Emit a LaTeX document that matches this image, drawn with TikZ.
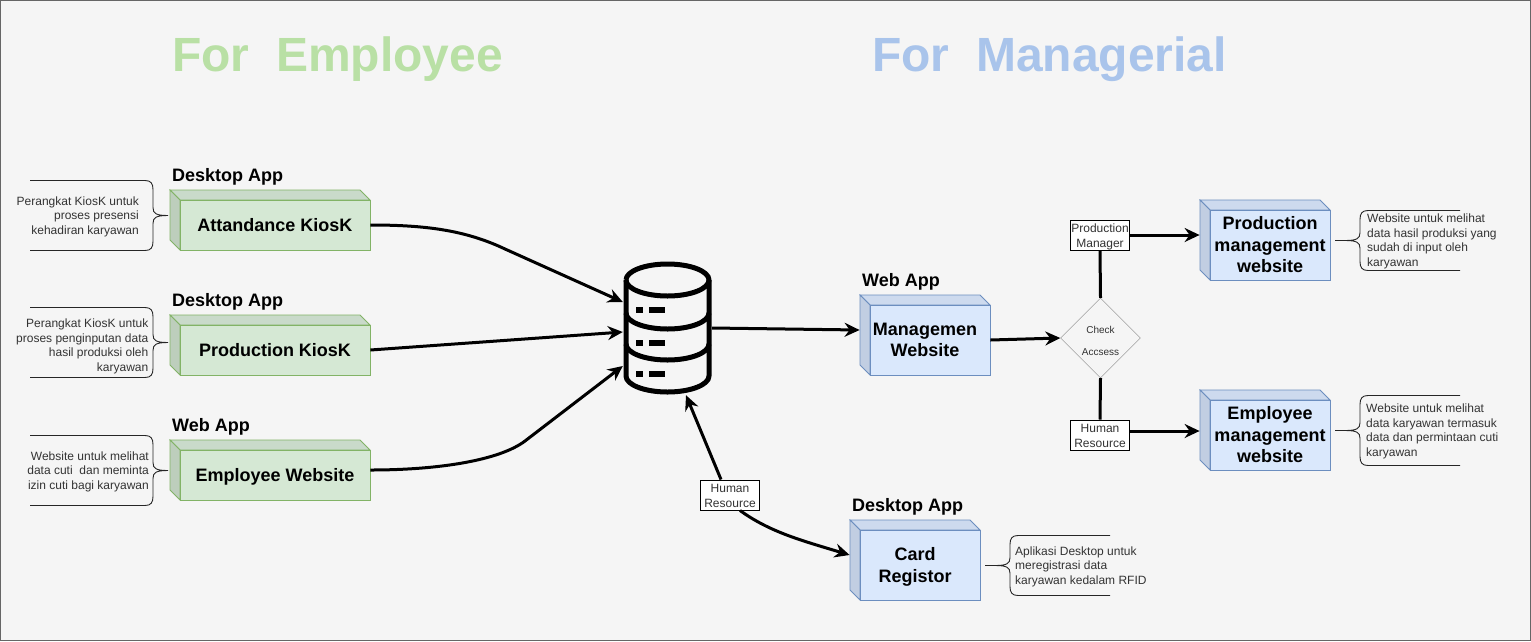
\documentclass[tikz,border=0pt]{standalone}
\usepackage{fontspec}
\setmainfont{Liberation Sans}
\usetikzlibrary{arrows.meta,shapes.geometric}

\definecolor{sheetfill}{HTML}{F5F5F5}
\definecolor{sheetline}{HTML}{666666}
\definecolor{notetext}{HTML}{333333}
\definecolor{greenfill}{HTML}{D5E8D4}
\definecolor{greenline}{HTML}{82B366}
\definecolor{greentop}{HTML}{C9DACA}
\definecolor{greenside}{HTML}{BDCEBC}
\definecolor{bluefill}{HTML}{DAE8FC}
\definecolor{blueline}{HTML}{6C8EBF}
\definecolor{bluetop}{HTML}{CDDAEE}
\definecolor{blueside}{HTML}{C1CEE2}
\definecolor{titlegreen}{HTML}{B9E0A5}
\definecolor{titleblue}{HTML}{A9C4EB}

\tikzset{
  cubeface/.style={inner sep=0pt, align=center, line width=0.8pt,
    font=\bfseries\fontsize{18}{21.5}\selectfont},
  apptag/.style={anchor=west, inner sep=0pt, font=\bfseries\fontsize{18}{21}\selectfont},
  bigtitle/.style={anchor=west, inner sep=0pt, font=\bfseries\fontsize{48}{56}\selectfont},
  notetxt/.style={inner sep=0pt, text=notetext, font=\fontsize{12}{14.5}\selectfont},
  rolebox/.style={draw=black, fill=white, line width=1pt, minimum width=59pt, minimum height=30pt,
    inner sep=0pt, align=center, text=notetext, font=\fontsize{12}{15}\selectfont},
  wire/.style={line width=3pt, -{Stealth[length=15pt,width=14pt,inset=5pt]}},
  bareline/.style={line width=3pt},
  bracket/.style={line width=0.9pt, draw=black!85},
  dbline/.style={line width=5pt, line join=round}
}

% line of text lowered, its descenders not counted
\newcommand{\dropline}[2][0pt]{\raisebox{-#1}[\height][0pt]{#2}}
% name, colour, left, top, right, bottom, text
\newcommand{\cubebox}[7]{%
  \draw[#2line, fill=#2top, line width=0.8pt] (#3,#4) -- (#5-10,#4) -- (#5,#4+10) -- (#3+10,#4+10) -- cycle;
  \draw[#2line, fill=#2side, line width=0.8pt] (#3,#4) -- (#3+10,#4+10) -- (#3+10,#6) -- (#3,#6-10) -- cycle;
  \node[cubeface, draw=#2line, fill=#2fill, minimum width={(#5-#3-10)*1pt}, minimum height={(#6-#4-10)*1pt}]
    (#1) at ({(#3+10+#5)/2},{(#4+10+#6)/2}) {#7};
}
% tip on the right: left end, upright, top, bottom
\newcommand{\bracketr}[4]{%
  \draw[bracket] (#1,#3) -- (#2-8,#3) .. controls (#2-2,#3) and (#2,#3+3) .. (#2,#3+9)
    -- (#2,{(#3+#4)/2-8}) .. controls (#2,{(#3+#4)/2-2}) and (#2+3,{(#3+#4)/2}) .. (#2+15,{(#3+#4)/2})
    (#2+15,{(#3+#4)/2}) .. controls (#2+3,{(#3+#4)/2}) and (#2,{(#3+#4)/2+2}) .. (#2,{(#3+#4)/2+8})
    -- (#2,#4-9) .. controls (#2,#4-3) and (#2-2,#4) .. (#2-8,#4) -- (#1,#4);
}
% tip on the left: right end, upright, top, bottom
\newcommand{\bracketl}[4]{%
  \draw[bracket] (#1,#3) -- (#2+8,#3) .. controls (#2+2,#3) and (#2,#3+3) .. (#2,#3+9)
    -- (#2,{(#3+#4)/2-8}) .. controls (#2,{(#3+#4)/2-2}) and (#2-3,{(#3+#4)/2}) .. (#2-15,{(#3+#4)/2})
    -- (#2-25,{(#3+#4)/2}) -- (#2-15,{(#3+#4)/2}) .. controls (#2-3,{(#3+#4)/2}) and (#2,{(#3+#4)/2+2}) .. (#2,{(#3+#4)/2+8})
    -- (#2,#4-9) .. controls (#2,#4-3) and (#2+2,#4) .. (#2+8,#4) -- (#1,#4);
}

\begin{document}
\begin{tikzpicture}[x=1pt,y=-1pt]
  \useasboundingbox (0,0) rectangle (1531,641);
  \draw[draw=sheetline, fill=sheetfill, line width=1pt] (0.5,0.5) rectangle (1530.5,640.5);

  \node[bigtitle, text=titlegreen] (titleEmployee) at (172,59) {For\ \ Employee};
  \node[bigtitle, text=titleblue] (titleManager) at (872,59) {For\ \ Managerial};

  % employee side
  \node[apptag] (tagAttendance) at (172,177) {Desktop App};
  \node[apptag] (tagProduction) at (172,302) {Desktop App};
  \node[apptag] (tagEmployee) at (172,427) {Web App};
  \cubebox{attendance}{green}{170}{190}{370}{250}{Attandance KiosK}
  \cubebox{production}{green}{170}{315}{370}{375}{Production KiosK}
  \cubebox{employee}{green}{170}{440}{370}{500}{\dropline{Employee Website}}

  \bracketr{30}{153}{180.5}{250.5}
  \bracketr{30}{153}{307.5}{377.5}
  \bracketr{30}{153}{435.5}{505.5}
  \node[notetxt, anchor=east, align=right] (noteAttendance) at (139,216.5) {Perangkat KiosK untuk\\proses presensi\\kehadiran karyawan};
  \node[notetxt, anchor=east, align=right] (noteProduction) at (148.5,346.5) {Perangkat KiosK untuk\\proses penginputan data\\hasil produksi oleh\\karyawan};
  \node[notetxt, anchor=east, align=right] (noteEmployee) at (149,471.5) {Website untuk melihat\\data cuti\ \ dan meminta\\izin cuti bagi karyawan};

  % database
  \node[minimum width=89pt, minimum height=134pt, inner sep=0pt] (db) at (667.5,328) {};
  \draw[dbline] (626,280) arc[x radius=41.5, y radius=16, start angle=180, end angle=-180];
  \draw[dbline] (626,280) -- (626,376) arc[x radius=41.5, y radius=16, start angle=180, end angle=0] -- (709,280);
  \draw[dbline] (626,313) arc[x radius=41.5, y radius=16, start angle=180, end angle=0];
  \draw[dbline] (626,344) arc[x radius=41.5, y radius=16, start angle=180, end angle=0];
  \foreach \rowy in {306.7,340,371} {
    \fill (636,\rowy) rectangle +(7,6);
    \fill (649,\rowy) rectangle +(15.5,6);
  }

  % managerial side
  \node[apptag] (tagManagemen) at (862,282) {Web App};
  \node[apptag] (tagCard) at (852,507) {Desktop App};
  \cubebox{managemen}{blue}{860}{295}{990}{375}{Managemen\hspace*{10pt}\\Website\hspace*{10pt}}
  \cubebox{prodsite}{blue}{1200}{200}{1330}{280}{Production\\management\\website}
  \cubebox{empsite}{blue}{1200}{390}{1330}{470}{Employee\\management\\website}
  \cubebox{card}{blue}{850}{520}{980}{600}{Card\hspace*{10pt}\\\dropline{Registor}\hspace*{10pt}}

  \node[diamond, draw=black!50, fill=sheetfill, minimum width=80pt, minimum height=80pt, inner sep=0pt,
    align=center, text=notetext, font=\fontsize{10}{22}\selectfont] (check) at (1100.5,338) {\dropline[3pt]{Check}\\\dropline[3pt]{Accsess}};
  \node[rolebox] (roleManager) at (1100,235) {\dropline[1pt]{Production}\\\dropline[1pt]{Manager}};
  \node[rolebox] (roleResource) at (1100,435) {\dropline[1pt]{Human}\\\dropline[1pt]{Resource}};
  \node[rolebox] (roleCard) at (730,495) {\dropline[1pt]{Human}\\\dropline[1pt]{Resource}};

  \bracketl{1460}{1360}{210.5}{270.5}
  \bracketl{1460}{1360}{395.5}{465.5}
  \bracketl{1110}{1010}{535.5}{595.5}
  \node[notetxt, anchor=west, align=left] (noteProdsite) at (1367,241.5) {Website untuk melihat\\data hasil produksi yang\\sudah di input oleh\\karyawan};
  \node[notetxt, anchor=west, align=left] (noteEmpsite) at (1366,431.5) {Website untuk melihat\\data karyawan termasuk\\data dan permintaan cuti\\karyawan};
  \node[notetxt, anchor=west, align=left] (noteCard) at (1015,566.5) {Aplikasi Desktop untuk\\meregistrasi data\\karyawan kedalam RFID};

  % connectors
  \draw[wire] (attendance.east) .. controls (425,225) and (465,230) .. (505,249) -- ([yshift=26pt]db.west);
  \draw[wire] (production.east) -- ([yshift=-4pt]db.west);
  \draw[wire] ([yshift=5pt]employee.east) .. controls (440,470) and (500,460) .. (525,441) -- ([yshift=-38pt]db.west);
  \draw[wire] (db.east) -- ([xshift=-10pt,yshift=10pt]managemen.west);
  \draw[wire] (managemen.east) -- (check.west);
  \draw[bareline] (check.north) -- (roleManager.south);
  \draw[bareline] (check.south) -- (roleResource.north);
  \draw[wire] (roleManager.east) -- ([xshift=-10pt,yshift=10pt]prodsite.west);
  \draw[wire] ([yshift=4pt]roleResource.east) -- ([xshift=-10pt,yshift=4pt]empsite.west);
  \draw[wire] ([xshift=-9pt]roleCard.north) -- ([xshift=18.5pt]db.south);
  \draw[wire] ([xshift=10pt]roleCard.south) .. controls (770,532) and (800,540) .. ([xshift=-10pt,yshift=10pt]card.west);
\end{tikzpicture}
\end{document}
